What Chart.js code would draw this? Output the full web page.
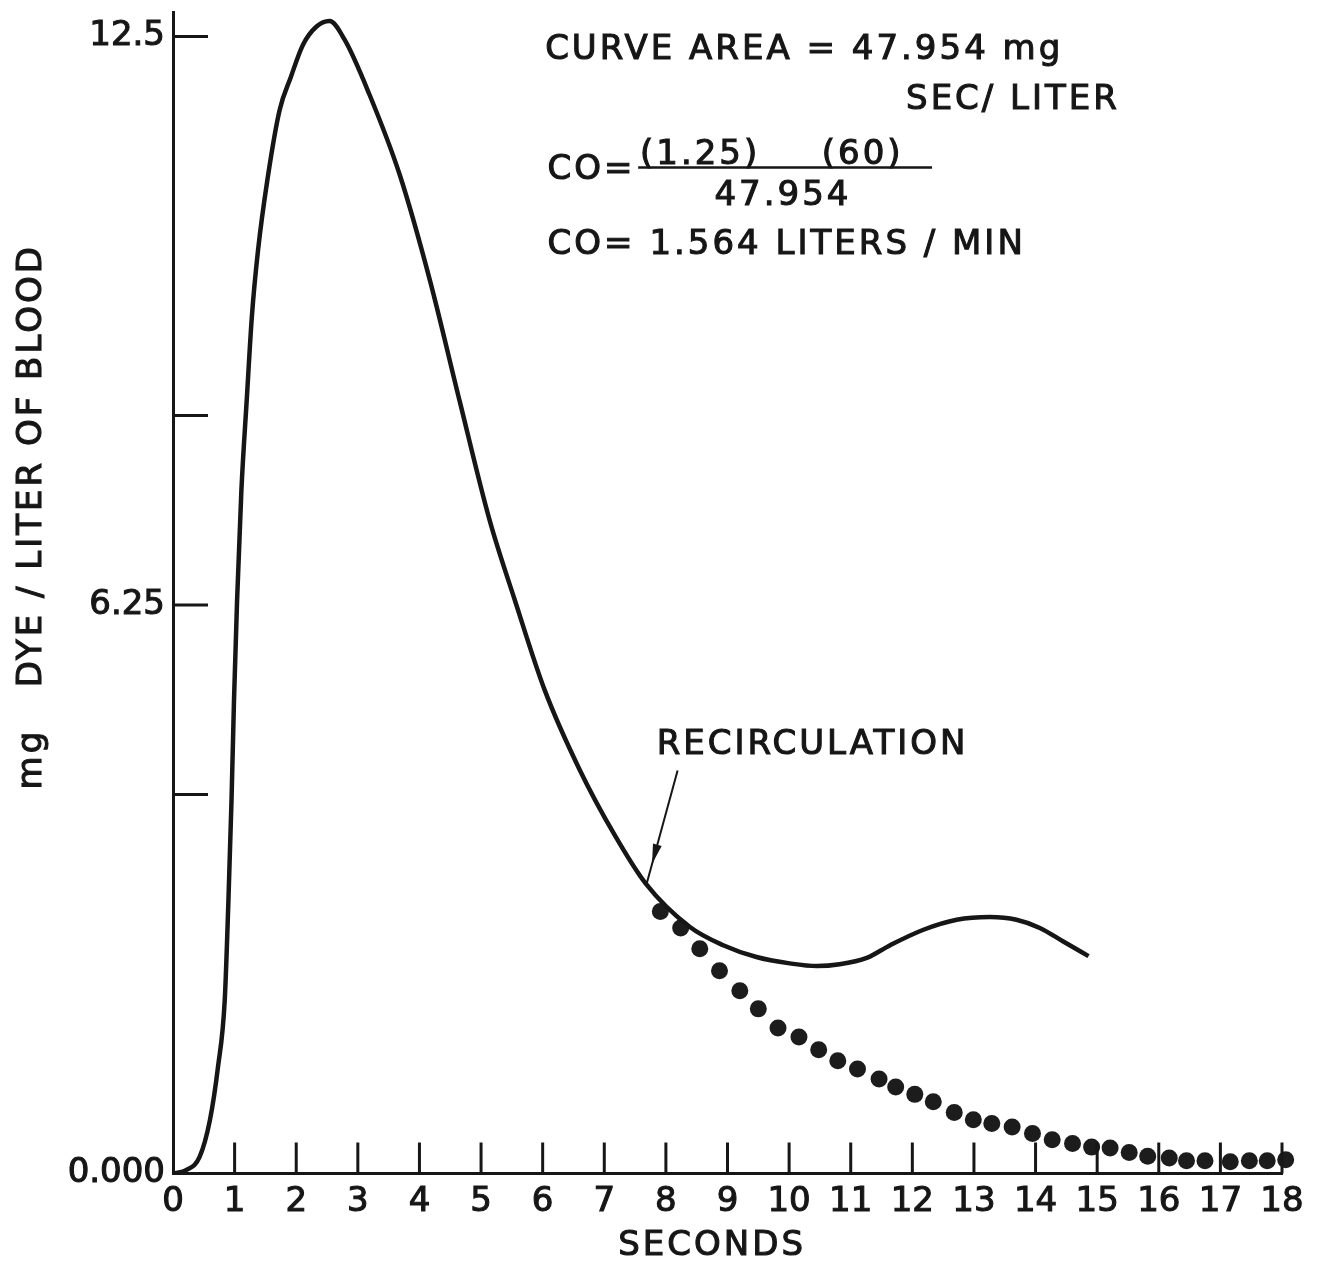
<!DOCTYPE html>
<html>
<head>
<meta charset="utf-8">
<script src="https://cdn.jsdelivr.net/npm/chart.js@4.4.1/dist/chart.umd.min.js"></script>
<style>
  html, body { margin: 0; background: #fff; }
  #wrap { width: 1320px; height: 1267px; }
</style>
</head>
<body>
<div id="wrap"><canvas id="dyeChart" width="1320" height="1267"></canvas></div>
<script>
// indicator-dilution curve
const curveTime = [0, 0.22, 0.43, 0.6, 0.73, 0.84, 0.9, 0.95, 0.99, 1.04, 1.11, 1.2, 1.28, 1.38, 1.54, 1.73, 1.91, 2.11, 2.33, 2.54, 2.79, 3.19, 3.68, 4.17, 4.65, 5.14, 5.55, 6.03, 6.6, 7.17, 7.67, 8.39, 8.93, 9.47, 10.01, 10.45, 10.82, 11.26, 11.64, 12.18, 12.72, 13.26, 13.69, 14.07, 14.45, 14.86];
const curveDye  = [0, 0.04, 0.18, 0.59, 1.17, 1.91, 3.01, 4.11, 5.2, 6.3, 7.51, 8.54, 9.42, 10.15, 10.96, 11.69, 12.05, 12.41, 12.61, 12.67, 12.46, 11.86, 10.98, 9.82, 8.5, 7.18, 6.3, 5.32, 4.44, 3.72, 3.19, 2.71, 2.51, 2.38, 2.31, 2.28, 2.3, 2.37, 2.51, 2.68, 2.79, 2.82, 2.79, 2.7, 2.55, 2.39];

// extrapolated decay (dots) replacing the recirculation hump
const dotTime = [7.91, 8.24, 8.55, 8.87, 9.2, 9.5, 9.82, 10.16, 10.48, 10.79, 11.11, 11.46, 11.73, 12.04, 12.34, 12.68, 12.99, 13.29, 13.62, 13.95, 14.27, 14.6, 14.91, 15.21, 15.52, 15.82, 16.17, 16.45, 16.75, 17.16, 17.47, 17.76, 18.06];
const dotDye  = [2.88, 2.7, 2.47, 2.23, 2.01, 1.81, 1.6, 1.5, 1.36, 1.24, 1.15, 1.04, 0.95, 0.87, 0.79, 0.67, 0.59, 0.55, 0.51, 0.44, 0.37, 0.33, 0.29, 0.28, 0.23, 0.19, 0.17, 0.14, 0.14, 0.13, 0.14, 0.14, 0.15];

const yTickValues = [0, 12.5 / 3, 6.25, 25 / 3, 12.5];
const yTickLabels = ['0.000', '', '6.25', '', '12.5'];

const ink = '#161616';
const FONT = '"DejaVu Sans", sans-serif';

// annotation text, placed in data units
const notes = [
  {text: 'CURVE AREA = 47.954 mg', t: 6.04, v: 12.35, align: 'left'},
  {text: 'SEC/ LITER', t: 15.37, v: 11.8, align: 'right'},
  {text: 'CO=', t: 6.08, v: 11.03, align: 'left'},
  {text: '(1.25)', t: 7.58, v: 11.2, align: 'left'},
  {text: '(60)', t: 10.53, v: 11.2, align: 'left'},
  {text: '47.954', t: 9.9, v: 10.74, align: 'center'},
  {text: 'CO= 1.564 LITERS / MIN', t: 6.08, v: 10.21, align: 'left'},
  {text: 'RECIRCULATION', t: 7.85, v: 4.71, align: 'left'}
];
const fractionBar = {t0: 7.55, t1: 12.32, v: 11.06};
const arrow = {fromT: 8.19, fromV: 4.43, toT: 7.69, toV: 3.19};

const paperPlugin = {
  id: 'paper',
  afterDraw(chart){
    const {ctx, chartArea: a} = chart;
    const x = chart.scales.x, y = chart.scales.y;
    const px = (t) => x.getPixelForValue(t);
    const py = (v) => y.getPixelForValue(v);
    ctx.save();
    ctx.strokeStyle = ink;
    ctx.fillStyle = ink;
    ctx.lineWidth = 3;

    // tick marks point into the plot
    y.ticks.forEach(tk => {
      if(tk.value === 0) return;
      ctx.beginPath(); ctx.moveTo(a.left, py(tk.value)); ctx.lineTo(a.left + 35, py(tk.value)); ctx.stroke();
    });
    x.ticks.forEach(tk => {
      if(tk.value === 0) return;
      ctx.beginPath(); ctx.moveTo(px(tk.value), a.bottom); ctx.lineTo(px(tk.value), a.bottom - 31); ctx.stroke();
    });

    const label = (txt, lx, ly) => { ctx.fillText(txt, lx, ly); ctx.strokeText(txt, lx, ly); };
    ctx.font = `34px ${FONT}`;
    ctx.textBaseline = 'middle';
    ctx.letterSpacing = '3px';
    ctx.lineWidth = 1.1;
    notes.forEach(n => {
      ctx.textAlign = n.align;
      label(n.text, px(n.t), py(n.v));
    });

    ctx.lineWidth = 2.5;
    ctx.beginPath();
    ctx.moveTo(px(fractionBar.t0), py(fractionBar.v));
    ctx.lineTo(px(fractionBar.t1), py(fractionBar.v));
    ctx.stroke();

    // arrow to the point where recirculation starts
    const x1 = px(arrow.fromT), y1 = py(arrow.fromV), x2 = px(arrow.toT), y2 = py(arrow.toV);
    const len = Math.hypot(x2 - x1, y2 - y1), ux = (x2 - x1) / len, uy = (y2 - y1) / len;
    ctx.lineWidth = 2;
    ctx.beginPath(); ctx.moveTo(x1, y1); ctx.lineTo(x2, y2); ctx.stroke();
    const hx = x2 - ux * 20, hy = y2 - uy * 20;
    ctx.beginPath();
    ctx.moveTo(hx, hy);
    ctx.lineTo(hx - ux * 20 - uy * 4.5, hy - uy * 20 + ux * 4.5);
    ctx.lineTo(hx - ux * 20 + uy * 4.5, hy - uy * 20 - ux * 4.5);
    ctx.closePath(); ctx.fill();

    // axis titles
    ctx.lineWidth = 1.1;
    ctx.textAlign = 'center';
    label('SECONDS', px(8.75), a.bottom + 73);
    ctx.translate(32, py(7.22));
    ctx.rotate(-Math.PI / 2);
    label('mg   DYE / LITER OF BLOOD', 0, 0);
    ctx.restore();
  }
};

const curvePoints = curveTime.map((t, i) => ({x: t, y: curveDye[i]}));
const dotPoints = dotTime.map((t, i) => ({x: t, y: dotDye[i]}));

const tickFont = {family: FONT, size: 34};

new Chart(document.getElementById('dyeChart'), {
  type: 'line',
  data: {
    datasets: [
      {
        data: curvePoints,
        borderColor: ink,
        borderWidth: 4.5,
        pointRadius: 0,
        cubicInterpolationMode: 'monotone',
        fill: false
      },
      {
        data: dotPoints,
        showLine: false,
        pointRadius: 8.5,
        pointBackgroundColor: '#1c1c1c',
        pointBorderWidth: 0,
        clip: false
      }
    ]
  },
  options: {
    responsive: false,
    animation: false,
    layout: {padding: {top: 12, right: 38, left: 0, bottom: 0}},
    plugins: {legend: {display: false}, tooltip: {enabled: false}},
    scales: {
      x: {
        type: 'linear', min: 0, max: 18,
        afterFit(s){ s.height = 93.5; },
        grid: {drawOnChartArea: false, drawTicks: false},
        border: {color: ink, width: 3},
        ticks: {stepSize: 1, autoSkip: false, maxRotation: 0, padding: 8, color: ink, textStrokeColor: ink, textStrokeWidth: 1.1, font: tickFont}
      },
      y: {
        type: 'linear', min: 0, max: 12.77,
        afterFit(s){ s.width = 173; s.paddingTop = 0; s.paddingBottom = 0; },
        afterBuildTicks(s){ s.ticks = yTickValues.map(v => ({value: v})); },
        grid: {drawOnChartArea: false, drawTicks: false},
        border: {color: ink, width: 3},
        ticks: {padding: 8, color: ink, textStrokeColor: ink, textStrokeWidth: 1.1, font: tickFont, callback: (v, i) => yTickLabels[i]}
      }
    }
  },
  plugins: [paperPlugin]
});
</script>
</body>
</html>
